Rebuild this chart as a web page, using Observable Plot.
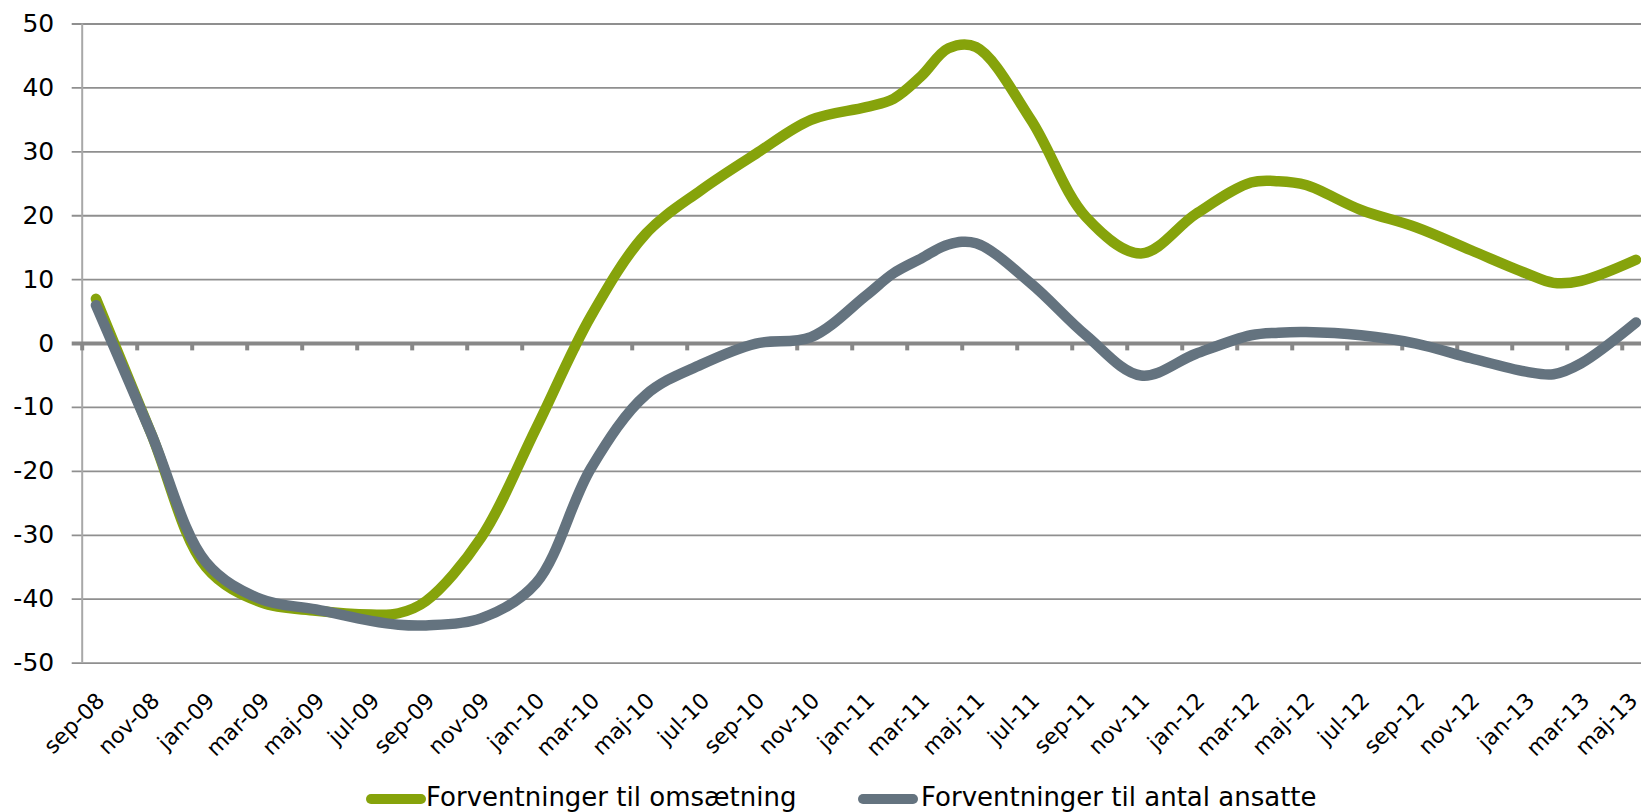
<!DOCTYPE html>
<html>
<head>
<meta charset="utf-8">
<script src="https://cdn.jsdelivr.net/npm/d3@7"></script>
<script src="https://cdn.jsdelivr.net/npm/@observablehq/plot@0.6"></script>
<style>
  html, body { margin: 0; padding: 0; background: #fff; overflow: hidden; }
  #chart { position: relative; width: 1641px; height: 760px; }
  #legend { position: relative; width: 1641px; height: 52px; font-family: "DejaVu Sans", sans-serif; font-size: 26px; color: #000; }
  .sw { position: absolute; height: 10px; width: 60px; border-radius: 5px; top: 34px; }
  .lt { position: absolute; top: 24px; line-height: 26px; white-space: nowrap; }
</style>
</head>
<body>
<div id="chart"></div>
<div id="legend"></div>
<script>
// ---- data ----
const monthNames = ["jan","feb","mar","apr","maj","jun","jul","aug","sep","okt","nov","dec"];
const xLabels = ["sep-08","nov-08","jan-09","mar-09","maj-09","jul-09","sep-09","nov-09","jan-10","mar-10",
  "maj-10","jul-10","sep-10","nov-10","jan-11","mar-11","maj-11","jul-11","sep-11","nov-11",
  "jan-12","mar-12","maj-12","jul-12","sep-12","nov-12","jan-13","mar-13","maj-13"];
const yTicks = [-50,-40,-30,-20,-10,0,10,20,30,40,50];
const dataMonths = ["sep-08","nov-08","jan-09","mar-09","maj-09","jul-09","aug-09","sep-09","nov-09","jan-10",
  "mar-10","maj-10","jul-10","sep-10","nov-10","jan-11","feb-11","mar-11","apr-11","maj-11",
  "jul-11","sep-11","nov-11","jan-12","mar-12","apr-12","maj-12","jul-12","sep-12","nov-12",
  "jan-13","feb-13","mar-13","maj-13"];
const omsaetning = [7,-14,-35,-40.5,-41.8,-42.4,-42.2,-40.3,-30.4,-13.3,
  4.3,17.2,24,29.7,35,37,38.3,41.8,46.2,46.4,
  35,19.8,14.1,20.3,25.2,25.4,24.8,20.9,18.2,14.6,
  11,9.5,9.8,13.1];
const ansatte = [6,-14,-34.2,-40,-41.6,-43.4,-44,-44.1,-43,-37.5,
  -19.5,-8,-3.3,0,1,7.5,11,13.3,15.5,15.7,
  9.4,1.3,-5,-1.6,1.3,1.7,1.8,1.3,0,-2.3,
  -4.4,-4.8,-3.1,3.3];
const seriesNames = ["Forventninger til omsætning","Forventninger til antal ansatte"];
const seriesColors = ["#86a30b","#64737f"];

// month label -> month index from sep-08
function monthIndex(label) {
  const [m, y] = label.split("-");
  return (2000 + +y) * 12 + monthNames.indexOf(m) - (2008 * 12 + 8);
}

const rows = [];
dataMonths.forEach((m, i) => {
  rows.push({serie: seriesNames[0], t: monthIndex(m), v: omsaetning[i]});
  rows.push({serie: seriesNames[1], t: monthIndex(m), v: ansatte[i]});
});

const font = "DejaVu Sans, sans-serif";
const labelStyle = {y: -50, text: d => d, rotate: -45, textAnchor: "end", dy: 34, fontSize: 22, fill: "#000"};

const chart = Plot.plot({
  width: 1641,
  height: 760,
  marginLeft: 81.7,
  marginRight: 0,
  marginTop: 23.5,
  marginBottom: 97.4,
  style: {fontFamily: font, background: "#fff", overflow: "visible"},
  x: {domain: [-0.5, 56.2], axis: null},
  y: {domain: [-50, 50], axis: null},
  marks: [
    Plot.ruleY(yTicks.filter(d => d !== 0), {y: d => d, stroke: "#8f8f8f", strokeWidth: 1.8, insetLeft: -10}),
    Plot.ruleX([-0.5], {y1: -50, y2: 50, stroke: "#a8a8a8", strokeWidth: 2}),
    Plot.ruleY([0], {stroke: "#888888", strokeWidth: 4, insetLeft: -10}),
    Plot.ruleX(xLabels, {x: d => monthIndex(d) - 0.5, y1: 0, y2: -1.15, stroke: "#888888", strokeWidth: 4}),
    Plot.text(yTicks, {x: -0.5, y: d => d, text: d => String(d), textAnchor: "end", dx: -28, fontSize: 25, fill: "#000"}),
    Plot.text(xLabels.slice(0, -1), {...labelStyle, x: d => monthIndex(d), dx: 5}),
    Plot.text(xLabels.slice(-1), {...labelStyle, x: d => monthIndex(d), dx: -2}),
    Plot.line(rows.filter(r => r.serie === seriesNames[0]), {x: "t", y: "v", stroke: seriesColors[0], strokeWidth: 10.5, curve: "catmull-rom", strokeLinecap: "round", strokeLinejoin: "round"}),
    Plot.line(rows.filter(r => r.serie === seriesNames[1]), {x: "t", y: "v", stroke: seriesColors[1], strokeWidth: 10.5, curve: "catmull-rom", strokeLinecap: "round", strokeLinejoin: "round"})
  ]
});
document.getElementById("chart").appendChild(chart);

// legend
const legend = document.getElementById("legend");
const legendPos = [{sw: 366, tx: 426}, {sw: 858, tx: 921}];
seriesNames.forEach((name, i) => {
  const sw = document.createElement("div");
  sw.className = "sw";
  sw.style.left = legendPos[i].sw + "px";
  sw.style.background = seriesColors[i];
  legend.appendChild(sw);
  const tx = document.createElement("span");
  tx.className = "lt";
  tx.style.left = legendPos[i].tx + "px";
  tx.textContent = name;
  legend.appendChild(tx);
});
</script>
</body>
</html>
